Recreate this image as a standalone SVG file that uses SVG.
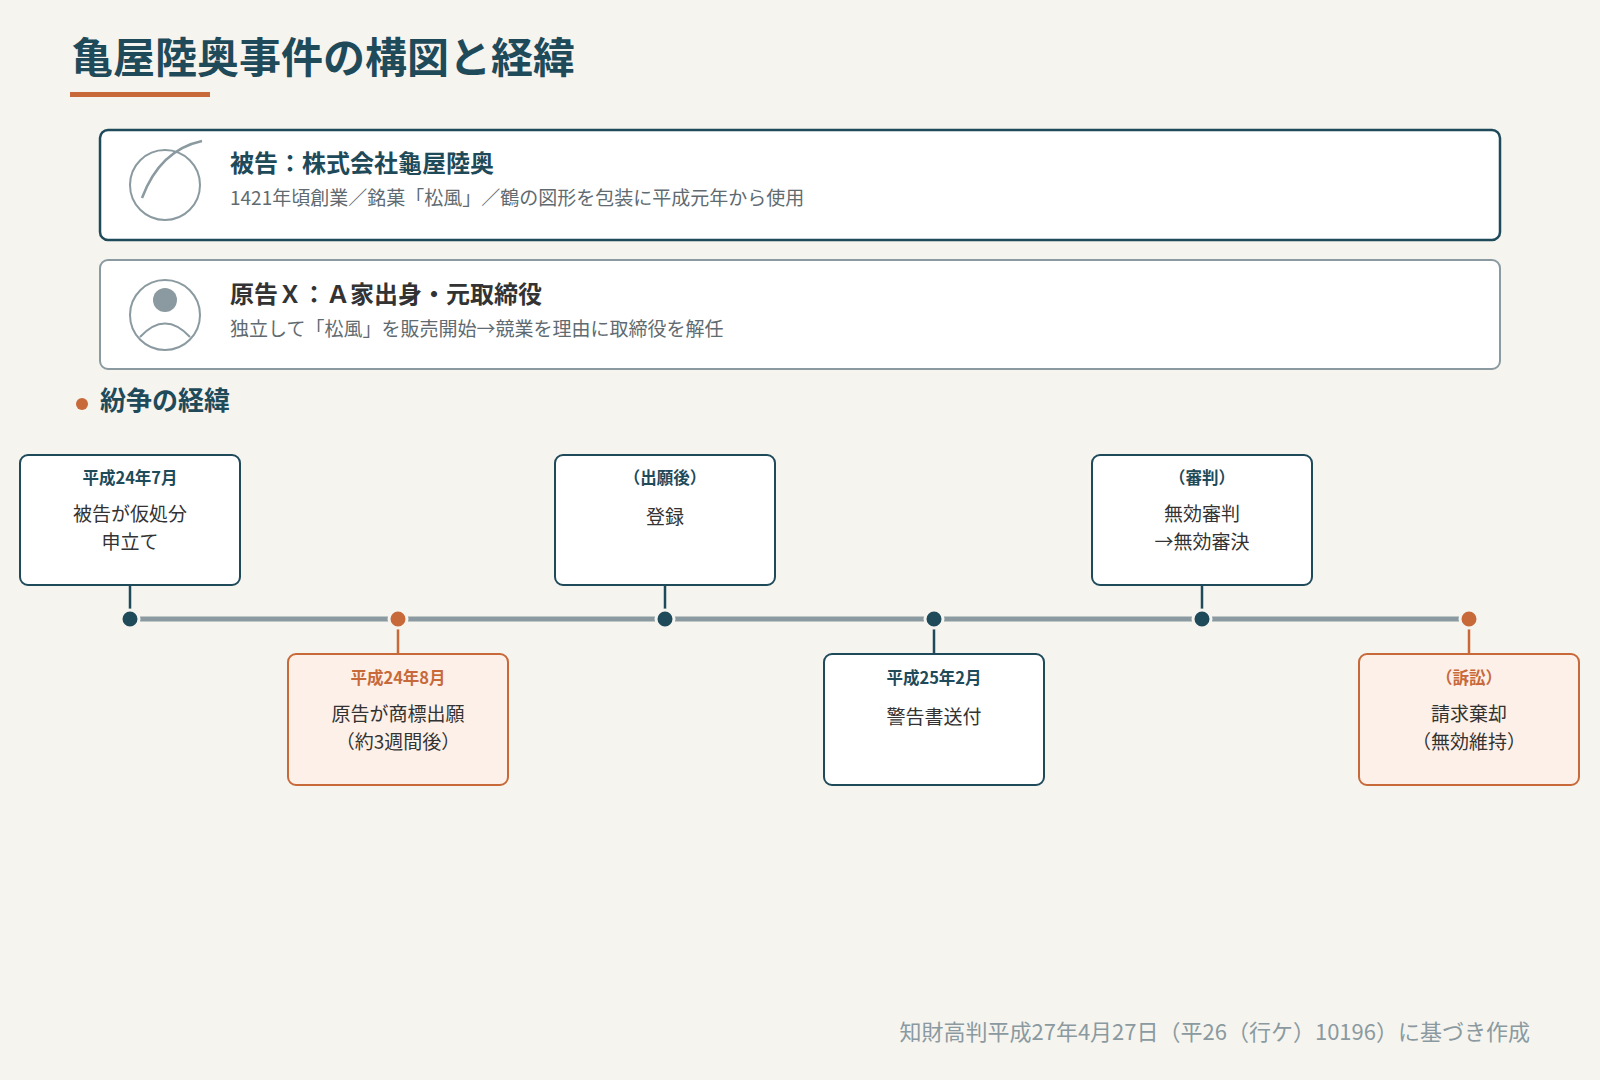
<svg xmlns="http://www.w3.org/2000/svg" width="1600" height="1080" viewBox="0 0 1600 1080">
<style>
text{font-family:"Noto Sans CJK JP","Noto Sans",sans-serif}
.bt{font-size:24px;font-weight:700}
.sub{font-size:19px;fill:#5f6b70}
.nd{fill:#fff;stroke:#1e4a5a;stroke-width:2}
.ndo{fill:#fdf0e8;stroke:#c8693a;stroke-width:2}
.dt{font-size:16.5px;font-weight:700;fill:#1e4a5a;text-anchor:middle}
.dto{font-size:16.5px;font-weight:700;fill:#c8693a;text-anchor:middle}
.tx{font-size:19px;fill:#333;text-anchor:middle}
</style>
<rect width="1600" height="1080" fill="#f6f4ef"/>
<text x="71" y="73" font-size="42" font-weight="700" fill="#1e4a5a">亀屋陸奥事件の構図と経緯</text>
<rect x="70" y="92" width="140" height="5" fill="#c8693a"/>
<g id="defendant">
<rect x="100" y="130" width="1400" height="110" rx="8" fill="#fff" stroke="#1e4a5a" stroke-width="2.5"/>
<circle cx="165" cy="185" r="35" fill="none" stroke="#8a9aa0" stroke-width="2"/>
<path d="M142 198 Q160 150 202 141" fill="none" stroke="#8a9aa0" stroke-width="2.5"/>
<text x="230" y="172" class="bt" fill="#1e4a5a">被告：株式会社龜屋陸奥</text>
<text x="230" y="205" class="sub">1421年頃創業／銘菓「松風」／鶴の図形を包装に平成元年から使用</text>
</g>
<g id="plaintiff">
<rect x="100" y="260" width="1400" height="109" rx="8" fill="#fff" stroke="#8a9aa0" stroke-width="2"/>
<circle cx="165" cy="315" r="35" fill="none" stroke="#8a9aa0" stroke-width="2"/>
<circle cx="165" cy="300" r="12" fill="#8a9aa0"/>
<path d="M140 337 Q165 310 190 337" fill="none" stroke="#8a9aa0" stroke-width="2"/>
<text x="230" y="303" class="bt" fill="#333">原告Ｘ：Ａ家出身・元取締役</text>
<text x="230" y="336" class="sub">独立して「松風」を販売開始→競業を理由に取締役を解任</text>
</g>
<g id="section">
<circle cx="82" cy="404" r="6" fill="#c8693a"/>
<text x="100" y="410" font-size="26" font-weight="700" fill="#1e4a5a">紛争の経緯</text>
</g>
<g id="connectors">
<line x1="130" y1="619" x2="1469" y2="619" stroke="#8a9aa0" stroke-width="5"/>
<g stroke-width="2.5">
<line x1="130" y1="585" x2="130" y2="612" stroke="#1e4a5a"/>
<line x1="665" y1="585" x2="665" y2="612" stroke="#1e4a5a"/>
<line x1="1202" y1="585" x2="1202" y2="612" stroke="#1e4a5a"/>
<line x1="398" y1="626" x2="398" y2="654" stroke="#c8693a"/>
<line x1="934" y1="626" x2="934" y2="654" stroke="#1e4a5a"/>
<line x1="1469" y1="626" x2="1469" y2="654" stroke="#c8693a"/>
</g>
<g stroke="#f6f4ef" stroke-width="3">
<circle cx="130" cy="619" r="9" fill="#1e4a5a"/>
<circle cx="398" cy="619" r="9" fill="#c8693a"/>
<circle cx="665" cy="619" r="9" fill="#1e4a5a"/>
<circle cx="934" cy="619" r="9" fill="#1e4a5a"/>
<circle cx="1202" cy="619" r="9" fill="#1e4a5a"/>
<circle cx="1469" cy="619" r="9" fill="#c8693a"/>
</g>
</g>
<g id="ev1"><rect x="20" y="455" width="220" height="130" rx="8" class="nd"/><text x="130" y="484" class="dt">平成24年7月</text><text x="130" y="521" class="tx">被告が仮処分</text><text x="130" y="549" class="tx">申立て</text></g>
<g id="ev2"><rect x="288" y="654" width="220" height="131" rx="8" class="ndo"/><text x="398" y="684" class="dto">平成24年8月</text><text x="398" y="721" class="tx">原告が商標出願</text><text x="398" y="749" class="tx">（約3週間後）</text></g>
<g id="ev3"><rect x="555" y="455" width="220" height="130" rx="8" class="nd"/><text x="665" y="484" class="dt">（出願後）</text><text x="665" y="524" class="tx">登録</text></g>
<g id="ev4"><rect x="824" y="654" width="220" height="131" rx="8" class="nd"/><text x="934" y="684" class="dt">平成25年2月</text><text x="934" y="724" class="tx">警告書送付</text></g>
<g id="ev5"><rect x="1092" y="455" width="220" height="130" rx="8" class="nd"/><text x="1202" y="484" class="dt">（審判）</text><text x="1202" y="521" class="tx">無効審判</text><text x="1202" y="549" class="tx">→無効審決</text></g>
<g id="ev6"><rect x="1359" y="654" width="220" height="131" rx="8" class="ndo"/><text x="1469" y="684" class="dto">（訴訟）</text><text x="1469" y="721" class="tx">請求棄却</text><text x="1469" y="749" class="tx">（無効維持）</text></g>
<text x="1530" y="1040" text-anchor="end" font-size="22" fill="#8a9aa0">知財高判平成27年4月27日（平26（行ケ）10196）に基づき作成</text>
</svg>
